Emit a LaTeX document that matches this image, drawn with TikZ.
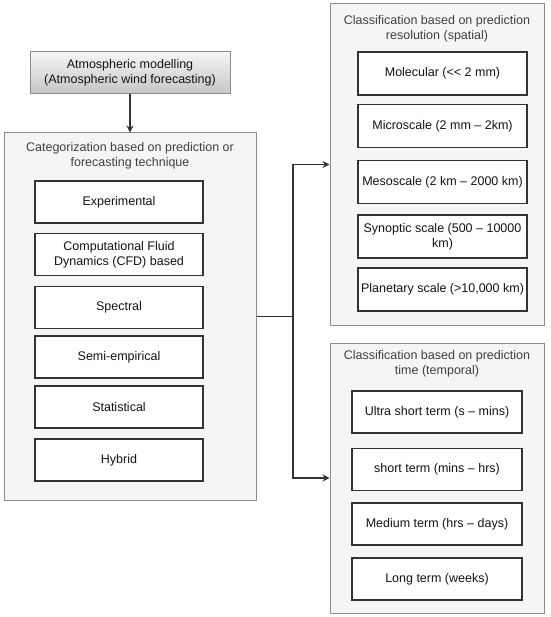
\documentclass[tikz,border=0pt]{standalone}
\usepackage{fontspec}
\setmainfont{Liberation Sans}
\usetikzlibrary{arrows.meta}
\definecolor{contfill}{HTML}{F5F5F5}
\definecolor{contline}{HTML}{8C8C8C}
\definecolor{boxline}{HTML}{333333}
\definecolor{txt}{HTML}{141414}
\definecolor{ttl}{HTML}{404040}
\begin{document}
\begin{tikzpicture}[x=1pt,y=-1pt,
  container/.style={draw=contline,fill=contfill,line width=1pt,inner sep=0pt},
  itembox/.style={draw=boxline,fill=white,line width=1.1pt,inner sep=2pt,align=center,text=txt,font=\fontsize{12.5}{15}\selectfont},
  ttlnode/.style={align=center,text=ttl,font=\fontsize{12.5}{15}\selectfont,inner sep=0pt},
  topbox/.style={draw=contline,line width=1pt,top color=gray!8,bottom color=gray!45,align=center,text=txt,font=\fontsize{12.5}{15}\selectfont,inner sep=0pt},
  conn/.style={draw=black!80,line width=1.2pt},
  arr/.style={conn,-{Stealth[length=7pt,width=7pt]}}]
\useasboundingbox (0,0) rectangle (550,617);
% top box
\node[topbox,minimum width=200pt,minimum height=42pt] (top) at (130,73) {Atmospheric modelling\\(Atmospheric wind forecasting)};
% containers
\node[container,minimum width=252pt,minimum height=367pt] (left) at (130,316.5) {};
\node[container,minimum width=214pt,minimum height=321pt] (rt) at (437,164.5) {};
\node[container,minimum width=214pt,minimum height=270pt] (rb) at (437,478) {};
% titles
\node[ttlnode] (lt) at (130,155.5) {Categorization based on prediction or\\forecasting technique};
\node[ttlnode] (rtt) at (437,28.5) {Classification based on prediction\\resolution (spatial)};
\node[ttlnode] (rbt) at (437,364) {Classification based on prediction\\time (temporal)};
% left items
\begin{scope}[every node/.style={itembox,minimum width=168pt,minimum height=42pt}]
\node (exp) at (119,202) {Experimental};
\node (cfd) at (119,254.5) {Computational Fluid\\Dynamics (CFD) based};
\node (spe) at (119,307.5) {Spectral};
\node (sem) at (119,357) {Semi-empirical};
\node (sta) at (119,407) {Statistical};
\node (hyb) at (119,460) {Hybrid};
\end{scope}
% right top items
\begin{scope}[every node/.style={itembox,minimum width=169pt,minimum height=43pt}]
\node (mol) at (442.5,73.5) {Molecular (<{}< 2 mm)};
\node (mic) at (442.5,126) {Microscale (2 mm – 2km)};
\node (mes) at (442.5,182) {Mesoscale (2 km – 2000 km)};
\node (syn) at (442.5,236.5) {Synoptic scale (500 – 10000\\km)};
\node (pla) at (442.5,289.5) {Planetary scale (>10,000 km)};
\end{scope}
% right bottom items
\begin{scope}[every node/.style={itembox,minimum width=170pt,minimum height=42pt}]
\node (ust) at (437,412) {Ultra short term (s – mins)};
\node (sht) at (437,469.5) {short term (mins – hrs)};
\node (med) at (437,524) {Medium term (hrs – days)};
\node (lng) at (437,579) {Long term (weeks)};
\end{scope}
% connectors
\draw[arr] (top.south) -- (left.north);
\coordinate (j) at (293,316.5);
\draw[conn] (left.east) -- (j);
\draw[arr] (j) |- (rt.west);
\draw[arr] (j) |- (rb.west);
\end{tikzpicture}
\end{document}
